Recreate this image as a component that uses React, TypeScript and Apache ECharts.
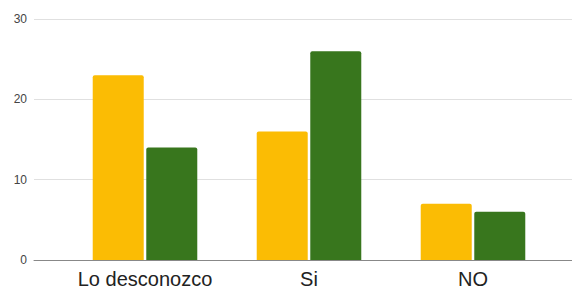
import React, { useEffect, useRef } from "react";
import * as echarts from "echarts";

const categories = ["Lo desconozco", "Si", "NO"];
const seriesA = [23, 16, 7];
const seriesB = [14, 26, 6];
const yMin = 0;
const yMax = 30;
const yInterval = 10;

export default function App() {
  const ref = useRef<HTMLDivElement>(null);
  useEffect(() => {
    if (!ref.current) return;
    const chart = echarts.init(ref.current, null, { renderer: "svg" });
    chart.setOption({
      animation: false,
      backgroundColor: "#ffffff",
      textStyle: { fontFamily: "Arial, 'Liberation Sans', sans-serif" },
      grid: [
        { left: 34, right: 0, top: 19, bottom: 31 },
        { left: 63, right: 17, top: 19, bottom: 31 },
      ],
      xAxis: [
        {
          gridIndex: 0,
          type: "category",
          data: [""],
          axisLine: { show: true, lineStyle: { color: "#888888", width: 1 } },
          axisTick: { show: false },
          axisLabel: { show: false },
        },
        {
          gridIndex: 1,
          type: "category",
          data: categories,
          axisLine: { show: false },
          axisTick: { show: false },
          axisLabel: { color: "#222222", fontSize: 20, margin: 9, interval: 0 },
        },
      ],
      yAxis: [
        {
          gridIndex: 0,
          type: "value",
          min: yMin,
          max: yMax,
          interval: yInterval,
          axisLine: { show: false },
          axisTick: { show: false },
          axisLabel: { color: "#444444", fontSize: 12, margin: 7 },
          splitLine: { lineStyle: { color: "#e0e0e0", width: 1 } },
        },
        {
          gridIndex: 1,
          type: "value",
          min: yMin,
          max: yMax,
          interval: yInterval,
          axisLine: { show: false },
          axisTick: { show: false },
          axisLabel: { show: false },
          splitLine: { show: false },
        },
      ],
      series: [
        {
          type: "bar",
          xAxisIndex: 1,
          yAxisIndex: 1,
          data: seriesA,
          barWidth: 51,
          barGap: "5%",
          itemStyle: { color: "#fbbc04", borderRadius: [2, 2, 0, 0] },
        },
        {
          type: "bar",
          xAxisIndex: 1,
          yAxisIndex: 1,
          data: seriesB,
          barWidth: 51,
          barGap: "5%",
          itemStyle: { color: "#38761d", borderRadius: [2, 2, 0, 0] },
        },
      ],
    });
    return () => chart.dispose();
  }, []);
  return <div ref={ref} style={{ width: 572, height: 291, position: "absolute", left: 0, top: 0 }} />;
}
